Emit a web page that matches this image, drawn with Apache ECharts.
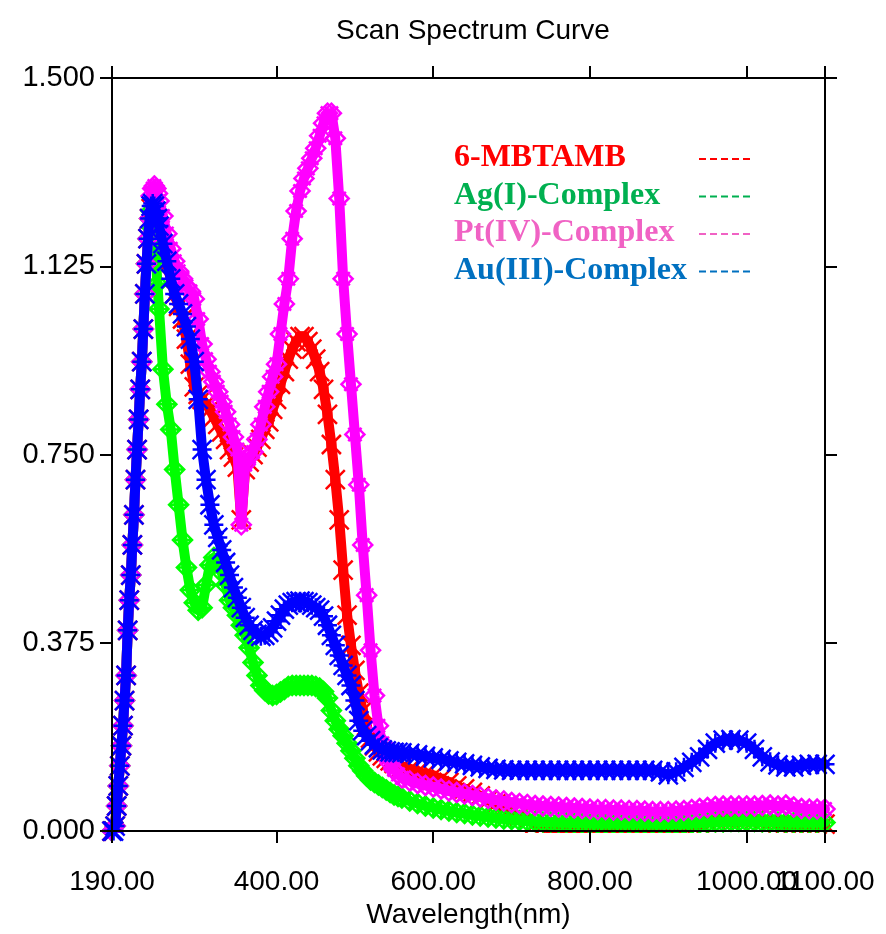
<!DOCTYPE html>
<html>
<head>
<meta charset="utf-8">
<script src="https://cdn.jsdelivr.net/npm/echarts@6/dist/echarts.min.js"></script>
<style>
  html, body { margin: 0; padding: 0; background: #ffffff; }
  #chart { width: 886px; height: 934px; }
</style>
</head>
<body>
<div id="chart"></div>
<script>
// Wavelength grid (nm): 2 nm steps over the rising edge, 5 nm through the bands, 10 nm in the tail
const wavelength = [
  190, 192, 194, 196, 198, 200, 202, 204, 206, 208,
  210, 212, 214, 216, 218, 220, 222, 224, 226, 228,
  230, 232, 234, 236, 238, 240, 242, 244, 246, 248, 250,
  255, 260, 265, 270, 275, 280, 285, 290, 295, 300,
  305, 310, 315, 320, 325, 330, 335, 340, 345, 350,
  355, 360, 365, 370, 375, 380, 385, 390, 395, 400,
  405, 410, 415, 420, 425, 430, 435, 440, 445, 450,
  455, 460, 465, 470, 475, 480, 485, 490, 495, 500,
  505, 510, 515, 520, 525, 530, 535, 540, 545, 550,
  555, 560,
  570, 580, 590, 600, 610, 620, 630, 640, 650, 660,
  670, 680, 690, 700, 710, 720, 730, 740, 750, 760,
  770, 780, 790, 800, 810, 820, 830, 840, 850, 860,
  870, 880, 890, 900, 910, 920, 930, 940, 950, 960,
  970, 980, 990, 1000, 1010, 1020, 1030, 1040, 1050, 1060,
  1070, 1080, 1090, 1100
];

// Absorbance of 6-MBTAMB
const mbtamb = [
  0.00, 0.00, 0.01, 0.05, 0.09, 0.13, 0.17, 0.21, 0.26, 0.31,
  0.40, 0.46, 0.51, 0.57, 0.63, 0.70, 0.76, 0.82, 0.88, 0.935,
  1.00, 1.07, 1.13, 1.18, 1.22, 1.24, 1.245, 1.235, 1.225, 1.21, 1.195,
  1.16, 1.13, 1.10, 1.07, 1.045, 1.02, 0.98, 0.93, 0.885, 0.87,
  0.86, 0.85, 0.84, 0.825, 0.81, 0.795, 0.78, 0.76, 0.745, 0.725,
  0.62, 0.72, 0.735, 0.75, 0.765, 0.78, 0.80, 0.815, 0.84, 0.86,
  0.89, 0.915, 0.94, 0.96, 0.975, 0.985, 0.985, 0.975, 0.96, 0.94,
  0.915, 0.88, 0.83, 0.77, 0.70, 0.62, 0.52, 0.43, 0.37, 0.32,
  0.275, 0.24, 0.21, 0.185, 0.17, 0.158, 0.15, 0.145, 0.14, 0.135,
  0.132, 0.128,
  0.123, 0.118, 0.114, 0.11, 0.104, 0.097, 0.09, 0.084, 0.077, 0.07,
  0.062, 0.054, 0.046, 0.038, 0.03, 0.022, 0.015, 0.009, 0.005, 0.005,
  0.005, 0.005, 0.005, 0.005, 0.005, 0.005, 0.005, 0.005, 0.005, 0.005,
  0.005, 0.005, 0.005, 0.005, 0.006, 0.008, 0.01, 0.013, 0.018, 0.023,
  0.026, 0.027, 0.027, 0.026, 0.023, 0.02, 0.018, 0.016, 0.015, 0.014,
  0.014, 0.014, 0.014, 0.014
];

// Absorbance of the Ag(I) complex
const agComplex = [
  0.00, 0.00, 0.01, 0.05, 0.09, 0.13, 0.17, 0.21, 0.26, 0.31,
  0.40, 0.46, 0.51, 0.57, 0.63, 0.70, 0.76, 0.82, 0.88, 0.935,
  1.00, 1.07, 1.13, 1.18, 1.22, 1.235, 1.20, 1.17, 1.14, 1.09, 1.04,
  0.92, 0.85, 0.80, 0.72, 0.65, 0.58, 0.525, 0.48, 0.455, 0.44,
  0.445, 0.49, 0.53, 0.545, 0.535, 0.515, 0.49, 0.46, 0.445, 0.43,
  0.41, 0.39, 0.365, 0.336, 0.31, 0.29, 0.28, 0.273, 0.27, 0.272,
  0.277, 0.282, 0.288, 0.29, 0.29, 0.29, 0.29, 0.29, 0.29, 0.288,
  0.285, 0.278, 0.265, 0.24, 0.22, 0.203, 0.19, 0.175, 0.16, 0.145,
  0.13, 0.12, 0.11, 0.102, 0.097, 0.092, 0.087, 0.082, 0.077, 0.072,
  0.069, 0.066,
  0.06, 0.055, 0.05, 0.046, 0.043, 0.04, 0.037, 0.035, 0.032, 0.03,
  0.028, 0.026, 0.024, 0.023, 0.021, 0.02, 0.019, 0.018, 0.018, 0.017,
  0.017, 0.016, 0.016, 0.015, 0.015, 0.015, 0.015, 0.015, 0.015, 0.015,
  0.015, 0.015, 0.015, 0.014, 0.014, 0.014, 0.015, 0.016, 0.017, 0.018,
  0.018, 0.019, 0.019, 0.019, 0.019, 0.018, 0.018, 0.018, 0.017, 0.017,
  0.017, 0.017, 0.017, 0.017
];

// Absorbance of the Pt(IV) complex
const ptComplex = [
  0.00, 0.00, 0.01, 0.05, 0.09, 0.13, 0.17, 0.21, 0.26, 0.31,
  0.40, 0.46, 0.51, 0.57, 0.63, 0.70, 0.76, 0.82, 0.88, 0.935,
  1.00, 1.07, 1.13, 1.18, 1.22, 1.265, 1.28, 1.285, 1.28, 1.27, 1.255,
  1.225, 1.19, 1.16, 1.135, 1.115, 1.10, 1.085, 1.075, 1.06, 1.02,
  0.97, 0.94, 0.915, 0.895, 0.875, 0.855, 0.835, 0.81, 0.785, 0.76,
  0.61, 0.73, 0.745, 0.755, 0.78, 0.81, 0.845, 0.875, 0.905, 0.93,
  0.99, 1.05, 1.10, 1.18, 1.235, 1.275, 1.30, 1.32, 1.34, 1.36,
  1.385, 1.41, 1.43, 1.43, 1.38, 1.26, 1.10, 0.99, 0.89, 0.79,
  0.69, 0.57, 0.47, 0.36, 0.27, 0.21, 0.175, 0.15, 0.135, 0.122,
  0.113, 0.106,
  0.10, 0.095, 0.091, 0.088, 0.084, 0.08, 0.077, 0.074, 0.071, 0.068,
  0.065, 0.062, 0.06, 0.057, 0.055, 0.053, 0.051, 0.05, 0.049, 0.048,
  0.047, 0.046, 0.045, 0.044, 0.043, 0.043, 0.042, 0.042, 0.041, 0.041,
  0.04, 0.039, 0.039, 0.039, 0.04, 0.041, 0.043, 0.045, 0.047, 0.049,
  0.05, 0.05, 0.05, 0.05, 0.05, 0.051, 0.052, 0.05, 0.052, 0.048,
  0.045, 0.044, 0.044, 0.044
];

// Absorbance of the Au(III) complex
const auComplex = [
  0.00, 0.00, 0.01, 0.05, 0.09, 0.13, 0.17, 0.21, 0.26, 0.31,
  0.40, 0.46, 0.51, 0.57, 0.63, 0.70, 0.76, 0.82, 0.88, 0.935,
  1.00, 1.07, 1.13, 1.18, 1.22, 1.245, 1.25, 1.245, 1.235, 1.22, 1.205,
  1.17, 1.135, 1.10, 1.07, 1.05, 1.03, 1.005, 0.98, 0.935, 0.86,
  0.76, 0.70, 0.65, 0.61, 0.585, 0.56, 0.535, 0.51, 0.485, 0.465,
  0.445, 0.425, 0.41, 0.40, 0.392, 0.388, 0.39, 0.396, 0.405, 0.418,
  0.43, 0.442, 0.45, 0.455, 0.457, 0.458, 0.457, 0.455, 0.45, 0.445,
  0.44, 0.428, 0.41, 0.39, 0.37, 0.35, 0.33, 0.31, 0.29, 0.26,
  0.22, 0.20, 0.19, 0.18, 0.172, 0.166, 0.162, 0.16, 0.158, 0.157,
  0.157, 0.156,
  0.155, 0.152, 0.149, 0.146, 0.143, 0.14, 0.137, 0.134, 0.131, 0.128,
  0.125, 0.123, 0.122, 0.121, 0.121, 0.121, 0.121, 0.121, 0.121, 0.121,
  0.121, 0.121, 0.121, 0.121, 0.121, 0.121, 0.121, 0.121, 0.121, 0.121,
  0.121, 0.121, 0.118, 0.112, 0.118, 0.127, 0.137, 0.148, 0.163, 0.175,
  0.181, 0.182, 0.181, 0.175, 0.163, 0.148, 0.138, 0.132, 0.128, 0.128,
  0.131, 0.133, 0.133, 0.133
];

// Tick positions along the wavelength axis; the 1000 label sits on its own axis
// so that it can overlap the 1100 label instead of being dropped
const xTickValues = [190, 400, 600, 800, 1000, 1100];
const xLabelValues = [190, 400, 600, 800, 1100];
const xLabelOverlapValues = [1000];
const seriesNames = ['6-MBTAMB', 'Ag(I)-Complex', 'Pt(IV)-Complex', 'Au(III)-Complex'];

const lineColors = ['#ff0000', '#00ff00', '#ff00ff', '#0000ff'];
const legendColors = ['#ff0000', '#00b050', '#f062c4', '#0070c0'];
const markers = [
  'path://M0,0L10,10M10,0L0,10M3,3L7,3L7,7L3,7Z',
  'path://M5,0L10,5L5,10L0,5ZM5,0L5,10M0,5L10,5',
  'path://M5,0L10,5L5,10L0,5ZM1.5,1.5L8.5,8.5M8.5,1.5L1.5,8.5',
  'path://M0,0L10,10M10,0L0,10M5,0L5,10M0,5L10,5'
];
const valueSets = [mbtamb, agComplex, ptComplex, auComplex];

const font = 'Liberation Sans, Arial, sans-serif';

const series = valueSets.map((vals, i) => ({
  name: seriesNames[i],
  type: 'line',
  xAxisIndex: 0,
  yAxisIndex: 0,
  data: wavelength.map((w, k) => [w, vals[k]]),
  showAllSymbol: true,
  symbol: markers[i],
  symbolSize: 19,
  lineStyle: { color: lineColors[i], width: 10, cap: 'round', join: 'round' },
  itemStyle: { color: 'rgba(0,0,0,0)', borderColor: lineColors[i], borderWidth: 2.5 },
  z: 2 + i,
  silent: true,
  animation: false
}));

// Legend block: coloured labels with short dashed keys on their right
const legendRows = seriesNames.map((name, i) => {
  const y = 161 + i * 37.5;
  return [
    {
      type: 'text', left: 454, top: y - 19, z: 20,
      style: {
        text: name, fill: legendColors[i],
        font: 'bold 32px "Liberation Serif", "Times New Roman", serif'
      }
    },
    {
      type: 'line', z: 20,
      shape: { x1: 699, y1: y - 2, x2: 753, y2: y - 2 },
      style: { stroke: legendColors[i], lineWidth: 2, lineDash: [7, 4] }
    }
  ];
}).flat();

const axisLineStyle = { color: '#000', width: 2 };
const labelText = { color: '#000', fontSize: 28, fontFamily: font };

const option = {
  animation: false,
  backgroundColor: '#ffffff',
  title: {
    text: 'Scan Spectrum Curve',
    left: 468, top: 12, textAlign: 'center',
    textStyle: { color: '#000', fontSize: 28, fontWeight: 'normal', fontFamily: font }
  },
  grid: { left: 112, right: 61, top: 78, bottom: 102, containLabel: false },
  xAxis: [
    {
      type: 'value', position: 'bottom', min: 190, max: 1100, z: 10,
      axisLine: { show: true, onZero: false, lineStyle: axisLineStyle },
      axisTick: { show: true, inside: false, length: 12, customValues: xTickValues, lineStyle: axisLineStyle },
      axisLabel: Object.assign({
        customValues: xLabelValues, margin: 37,
        showMinLabel: true, showMaxLabel: true, hideOverlap: false,
        formatter: v => v.toFixed(2)
      }, labelText),
      splitLine: { show: false },
      name: 'Wavelength(nm)', nameLocation: 'middle', nameGap: 66,
      nameTextStyle: Object.assign({ verticalAlign: 'top' }, labelText)
    },
    {
      type: 'value', position: 'top', min: 190, max: 1100, z: 10,
      axisLine: { show: true, onZero: false, lineStyle: axisLineStyle },
      axisTick: { show: true, inside: false, length: 12, customValues: xTickValues, lineStyle: axisLineStyle },
      axisLabel: { show: false },
      splitLine: { show: false }
    },
    {
      type: 'value', position: 'bottom', min: 190, max: 1100, z: 9,
      axisLine: { show: false, onZero: false },
      axisTick: { show: false },
      axisLabel: Object.assign({
        customValues: xLabelOverlapValues, margin: 37,
        showMinLabel: false, showMaxLabel: false,
        formatter: v => v.toFixed(2)
      }, labelText),
      splitLine: { show: false }
    }
  ],
  yAxis: [
    {
      type: 'value', position: 'left', min: 0, max: 1.5, interval: 0.375, z: 10,
      axisLine: { show: true, onZero: false, lineStyle: axisLineStyle },
      axisTick: { show: true, inside: false, length: 12, lineStyle: axisLineStyle },
      axisLabel: Object.assign({ margin: 17, formatter: v => v.toFixed(3) }, labelText, { fontSize: 29 }),
      splitLine: { show: false }
    },
    {
      type: 'value', position: 'right', min: 0, max: 1.5, interval: 0.375, z: 10,
      axisLine: { show: true, onZero: false, lineStyle: axisLineStyle },
      axisTick: { show: true, inside: false, length: 12, lineStyle: axisLineStyle },
      axisLabel: { show: false },
      splitLine: { show: false }
    }
  ],
  graphic: [
    // keeps markers from spilling below the baseline
    { type: 'rect', z: 5, shape: { x: 113, y: 833, width: 711, height: 16 }, style: { fill: '#ffffff' } },
    ...legendRows
  ],
  series: series
};

const chart = echarts.init(document.getElementById('chart'));
chart.setOption(option);
</script>
</body>
</html>
